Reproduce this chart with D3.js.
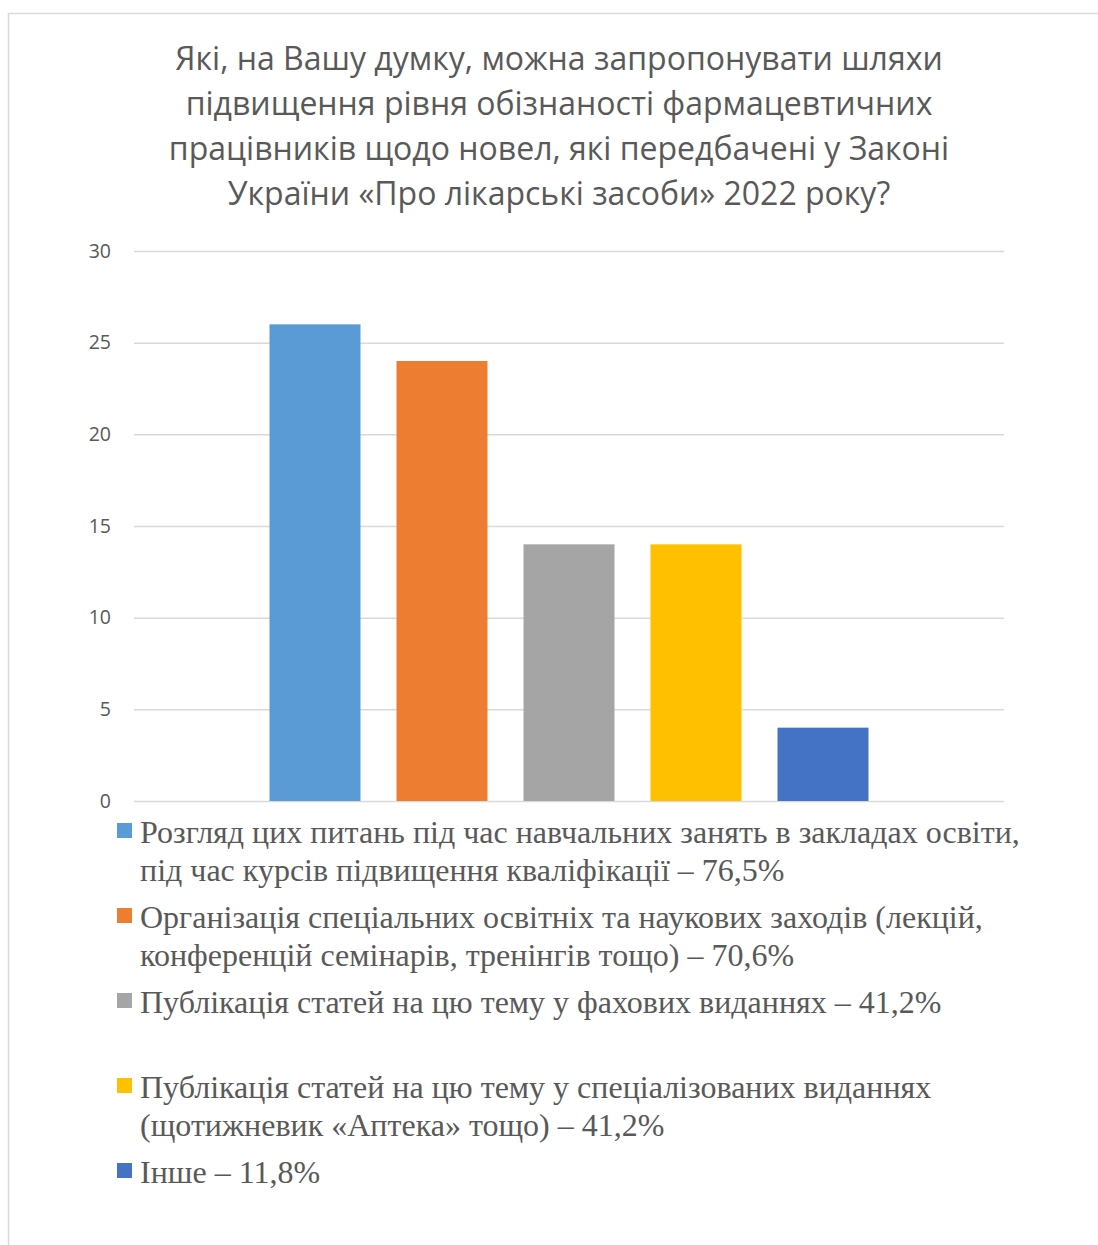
<!DOCTYPE html>
<html lang="uk">
<head>
<meta charset="utf-8">
<script src="https://cdn.jsdelivr.net/npm/d3@7"></script>
<style>
  html, body { margin: 0; padding: 0; background: #fff; }
  svg { display: block; }
</style>
</head>
<body>
<svg id="chart" width="1098" height="1245"></svg>
<script>
// Survey answers: number of respondents per proposed way of raising awareness
const series = [
  "Розгляд цих питань під час навчальних занять в закладах освіти, під час курсів підвищення кваліфікації – 76,5%",
  "Організація спеціальних освітніх та наукових заходів (лекцій, конференцій семінарів, тренінгів тощо) – 70,6%",
  "Публікація статей на цю тему у фахових виданнях – 41,2%",
  "Публікація статей на цю тему у спеціалізованих виданнях (щотижневик «Аптека» тощо) – 41,2%",
  "Інше – 11,8%"
];
// Legend text broken into lines as it is set in the legend box
const legendLines = [
  ["Розгляд цих питань під час навчальних занять в закладах освіти,", "під час курсів підвищення кваліфікації – 76,5%"],
  ["Організація спеціальних освітніх та наукових заходів (лекцій,", "конференцій семінарів, тренінгів тощо) – 70,6%"],
  ["Публікація статей на цю тему у фахових виданнях – 41,2%", ""],
  ["Публікація статей на цю тему у спеціалізованих виданнях", "(щотижневик «Аптека» тощо) – 41,2%"],
  ["Інше – 11,8%"]
];
const values = [26, 24, 14, 14, 4];
const colors = ["#5b9bd5", "#ed7d31", "#a5a5a5", "#ffc000", "#4472c4"];
const yTicks = [0, 5, 10, 15, 20, 25, 30];
const titleLines = [
  "Які, на Вашу думку, можна запропонувати шляхи",
  "підвищення рівня обізнаності фармацевтичних",
  "працівників щодо новел, які передбачені у Законі",
  "України «Про лікарські засоби» 2022 року?"
];

const svg = d3.select("#chart");
const textColor = "#595959";
const sans = "'Open Sans', 'Noto Sans', sans-serif";

// Chart area frame
svg.append("rect")
  .attr("x", 8.5).attr("y", 13.5)
  .attr("width", 1100).attr("height", 1250)
  .attr("fill", "#fff")
  .attr("stroke", "#d9d9d9").attr("stroke-width", 1.5);

// Title
svg.append("g")
  .selectAll("text")
  .data(titleLines)
  .join("text")
  .attr("x", 559)
  .attr("y", (d, i) => 70 + i * 45)
  .attr("text-anchor", "middle")
  .attr("font-family", sans)
  .attr("font-size", 32)
  .attr("fill", textColor)
  .text(d => d);

// Plot area
const plot = { left: 134, right: 1004, top: 251, bottom: 801 };

const y = d3.scaleLinear()
  .domain([0, 30])
  .range([plot.bottom, plot.top]);

const x = d3.scaleBand()
  .domain(series)
  .range([plot.left, plot.right])
  .paddingInner(0.2835)
  .paddingOuter(1.067);

// Horizontal gridlines and value axis labels
const yAxis = d3.axisLeft(y)
  .tickValues(yTicks)
  .tickSize(-(plot.right - plot.left))
  .tickPadding(23)
  .tickFormat(d3.format("d"));

const yG = svg.append("g")
  .attr("transform", `translate(${plot.left},0)`)
  .call(yAxis);
yG.select(".domain").remove();
yG.selectAll(".tick line")
  .attr("stroke", "#d9d9d9")
  .attr("stroke-width", 1.5);
yG.selectAll(".tick text")
  .attr("fill", textColor)
  .attr("font-family", sans)
  .attr("font-size", 19.5);

// Bars
svg.append("g")
  .selectAll("rect")
  .data(values)
  .join("rect")
  .attr("x", (d, i) => x(series[i]))
  .attr("y", d => y(d))
  .attr("width", x.bandwidth())
  .attr("height", d => y(0) - y(d))
  .attr("fill", (d, i) => colors[i]);

// Legend
const legend = svg.append("g");
const legendTop = 843;
const slot = 85;
const lineGap = 38;

const item = legend.selectAll("g")
  .data(series)
  .join("g")
  .attr("transform", (d, i) => `translate(0,${legendTop + i * slot})`);

item.append("rect")
  .attr("x", 117)
  .attr("y", -20)
  .attr("width", 15)
  .attr("height", 15)
  .attr("fill", (d, i) => colors[i]);

item.each(function(d, i) {
  d3.select(this).selectAll("text")
    .data(legendLines[i])
    .join("text")
    .attr("x", 140)
    .attr("y", (t, j) => j * lineGap)
    .attr("font-family", "'Liberation Serif', 'Times New Roman', serif")
    .attr("font-size", 32)
    .attr("fill", textColor)
    .text(t => t);
});
</script>
</body>
</html>
